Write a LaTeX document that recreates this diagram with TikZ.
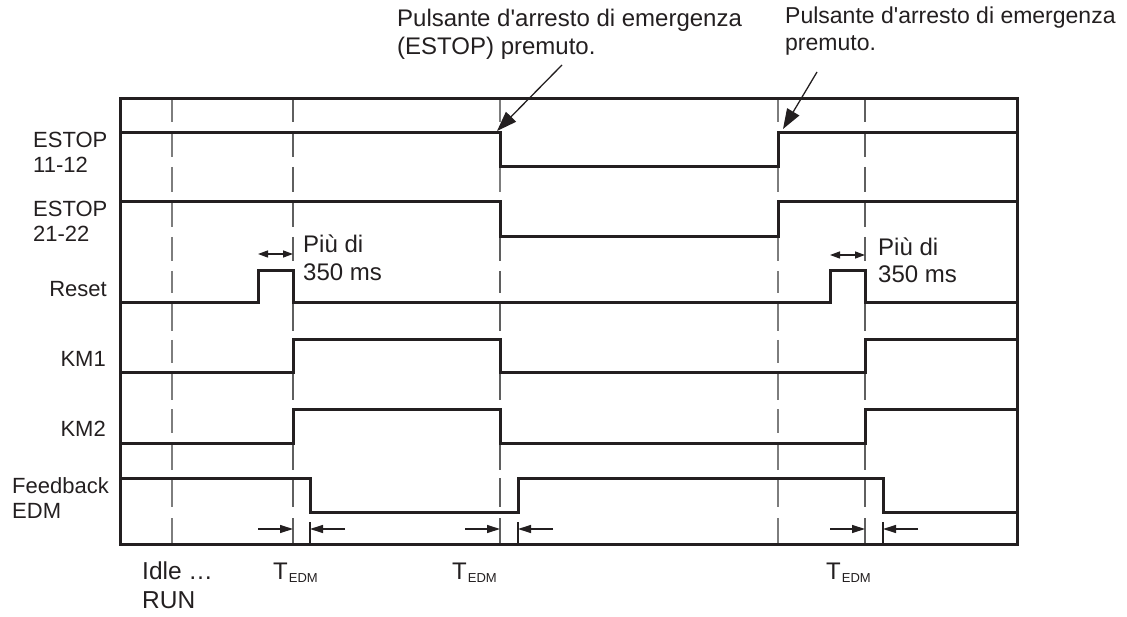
\documentclass[tikz,border=0pt]{standalone}
\usepackage{fontspec}
\setmainfont{Liberation Sans}
\newfontfamily\plainsans{Liberation Sans}
\usetikzlibrary{arrows.meta}
\definecolor{ink}{RGB}{35,31,32}
\definecolor{gridthin}{RGB}{125,125,125}
\definecolor{gridthick}{RGB}{95,95,95}
\newcommand{\twolines}[2]{\vtop{\hbox{#1}\hbox{#2}}}
\begin{document}
\begin{tikzpicture}[x=1pt,y=-1pt,
  signal/.style={draw=ink,line width=3pt,line join=miter},
  frame/.style={draw=ink,line width=3pt},
  gthin/.style={draw=gridthin,line width=1.6pt},
  gthick/.style={draw=gridthick,line width=2.6pt},
  lbl/.style={inner sep=0pt,text=ink,font=\fontsize{22}{25}\selectfont},
  note/.style={inner sep=0pt,text=ink},
  callout/.style={draw=ink,line width=1.3pt,-{Triangle[length=20pt,width=14pt]}},
  tarrow/.style={draw=ink,line width=1.2pt,-{Triangle[length=13pt,width=8pt]}},
  tick/.style={draw=ink,line width=1.2pt},
  darrow/.style={draw=ink,line width=1.3pt,{Triangle[length=10pt,width=7pt]}-{Triangle[length=10pt,width=7pt]}},
  tedm/.style={inner sep=0pt,text=ink,font=\fontsize{24}{29}\selectfont}
]
\useasboundingbox (0,0) rectangle (1127,617);

% vertical reference lines (broken just above every level line)
\foreach \a/\b [count=\i] in {98/122,133/157,167/192,202/227,237/261,271/293,303/331,340/363,373/400,409/433,443/470,478/507,518/543}{
  \draw[gthin] (172,\a) -- (172,\b);
  \draw[gthin] (778,\a) -- (778,\b);
  \draw[gthick] (293,\a) -- (293,\b);
  \draw[gthick] (865,\a) -- (865,\b);
  \ifnum\i<4
    \draw[gthin] (500,\a) -- (500,\b);
  \else
    \draw[gthick] (500,\a) -- (500,\b);
  \fi
}

% frame
\draw[frame] (120,99) rectangle (1017,544);

% signals
\draw[signal] (120,133) -- (500,133) -- (500,167) -- (778,167) -- (778,133) -- (1017,133);
\draw[signal] (120,202) -- (500,202) -- (500,237) -- (778,237) -- (778,202) -- (1017,202);
\draw[signal] (120,303) -- (258,303) -- (258,271) -- (293,271) -- (293,303) -- (830,303) -- (830,271) -- (865,271) -- (865,303) -- (1017,303);
\draw[signal] (120,373) -- (293,373) -- (293,340) -- (500,340) -- (500,373) -- (865,373) -- (865,340) -- (1017,340);
\draw[signal] (120,443) -- (293,443) -- (293,409) -- (500,409) -- (500,443) -- (865,443) -- (865,409) -- (1017,409);
\draw[signal] (120,478) -- (310,478) -- (310,512) -- (518,512) -- (518,478) -- (883,478) -- (883,512) -- (1017,512);

% row labels
\node[lbl,anchor=base west] (lestopa) at (33,148) {\twolines{ESTOP}{11-12}};
\node[lbl,anchor=base west] (lestopb) at (33,217) {\twolines{ESTOP}{21-22}};
\node[lbl,anchor=base east] (lreset) at (107,297) {Reset};
\node[lbl,anchor=base east] (lkma) at (106,367) {KM1};
\node[lbl,anchor=base east] (lkmb) at (106,436) {KM2};
\node[lbl,anchor=base west] (lfb) at (12,493) {\twolines{Feedback}{EDM}};

% "more than 350 ms"
\coordinate (rpa) at (258,254); \coordinate (rpb) at (293,254);
\coordinate (rqa) at (830,255); \coordinate (rqb) at (865,255);
\draw[darrow] (rpa) -- (rpb);
\draw[darrow] (rqa) -- (rqb);
\node[note,anchor=base west,font=\fontsize{24}{28}\selectfont] (piua) at (303,253) {\twolines{Più di}{350 ms}};
\node[note,anchor=base west,font=\fontsize{24}{27}\selectfont] (piub) at (878,256) {\twolines{Più di}{350 ms}};

% callouts
\node[note,anchor=base west,font=\plainsans\fontsize{24}{28}\selectfont] (nota) at (397,27) {\twolines{Pulsante d'arresto di emergenza}{(ESTOP) premuto.}};
\node[note,anchor=base west,font=\plainsans\fontsize{23}{27}\selectfont] (notb) at (785,24) {\twolines{Pulsante d'arresto di emergenza}{premuto.}};
\coordinate (sa) at (562,65); \coordinate (ta) at (497,131);
\coordinate (sb) at (817,72); \coordinate (tb) at (783,129);
\draw[callout] (sa) -- (ta);
\draw[callout] (sb) -- (tb);

% T_EDM markers
\foreach \x/\y/\n in {293/310/a,500/518/b,865/883/c}{
  \coordinate (tl\n) at (\x-35,529);
  \coordinate (te\n) at (\x,529);
  \coordinate (tf\n) at (\y,529);
  \coordinate (tr\n) at (\y+35,529);
  \coordinate (tt\n) at (\y,522);
  \coordinate (tu\n) at (\y,543);
  \draw[tarrow] (tl\n) -- (te\n);
  \draw[tarrow] (tr\n) -- (tf\n);
  \draw[tick] (tt\n) -- (tu\n);
}
\node[tedm,anchor=base west] (tedma) at (273,579) {T\kern1pt\raisebox{-3pt}{\fontsize{13}{13}\selectfont EDM}};
\node[tedm,anchor=base west] (tedmb) at (452,579) {T\kern1pt\raisebox{-3pt}{\fontsize{13}{13}\selectfont EDM}};
\node[tedm,anchor=base west] (tedmc) at (826,579) {T\kern1pt\raisebox{-3pt}{\fontsize{13}{13}\selectfont EDM}};

% bottom label
\node[note,anchor=base west,font=\fontsize{24.5}{29}\selectfont] (idle) at (142,579) {\twolines{Idle …}{RUN}};
\end{tikzpicture}
\end{document}
